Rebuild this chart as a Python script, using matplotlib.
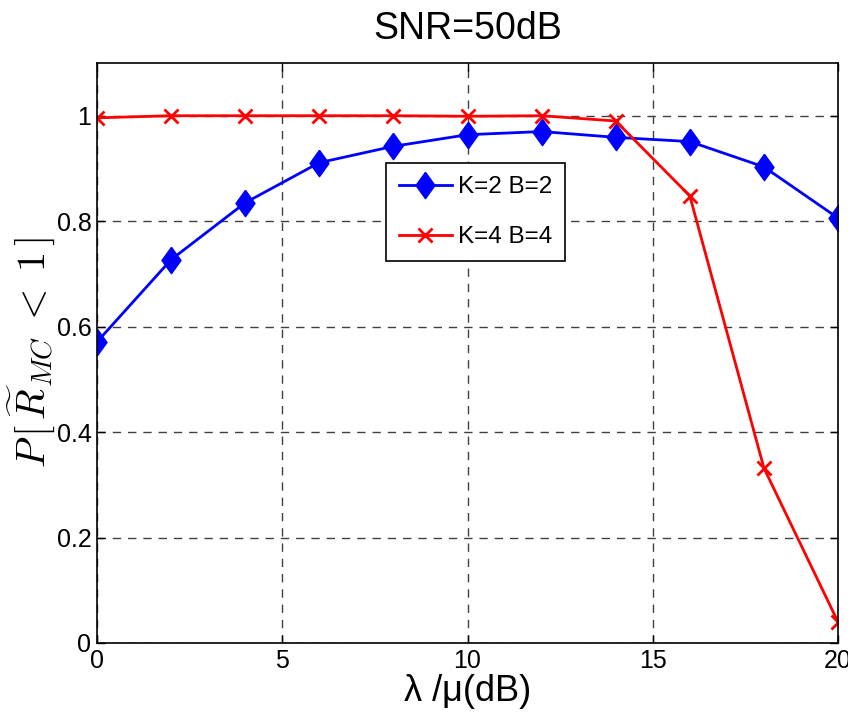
import matplotlib
matplotlib.use("Agg")
import matplotlib.pyplot as plt

plt.rcParams['font.family'] = ['Liberation Sans', 'DejaVu Sans']
plt.rcParams['mathtext.fontset'] = 'cm'

x_vals = [0, 2, 4, 6, 8, 10, 12, 14, 16, 18, 20]
k2b2 = [0.571, 0.727, 0.835, 0.911, 0.942, 0.964, 0.970, 0.959, 0.951, 0.903, 0.806]
k4b4 = [0.996, 1.0, 1.0, 1.0, 1.0, 0.999, 1.0, 0.990, 0.848, 0.332, 0.040]
labels = ["K=2 B=2", "K=4 B=4"]
xticks = [0, 5, 10, 15, 20]
yticks = [0, 0.2, 0.4, 0.6, 0.8, 1.0]
yticklabels = ["0", "0.2", "0.4", "0.6", "0.8", "1"]

diamond = [(0, 1), (0.72, 0), (0, -1), (-0.72, 0), (0, 1)]

fig = plt.figure(figsize=(8.48, 7.16), dpi=100)
ax = fig.add_axes([97/848, 73/716, 741/848, 580/716])

ax.plot(x_vals, k2b2, color='#0000ff', marker=diamond, markersize=19, linewidth=2, label=labels[0])
ax.plot(x_vals, k4b4, color='#ff0000', marker='x', markersize=10, markeredgewidth=2, linewidth=2, label=labels[1])

ax.set_xlim(0, 20)
ax.set_ylim(0, 1.1)
ax.set_xticks(xticks)
ax.set_yticks(yticks)
ax.set_yticklabels(yticklabels)
ax.tick_params(direction='in', labelsize=18, length=6, width=1, top=True, right=True, pad=4)
ax.grid(True, linestyle=(0, (6, 5)), color='#404040', linewidth=1)
for s in ax.spines.values():
    s.set_linewidth(1.2)

ax.set_title("SNR=50dB", fontsize=27, pad=17)
ax.set_xlabel("λ /μ(dB)", fontsize=26, labelpad=1)
ax.set_ylabel(r"$P\,[\,\widetilde{R}_{MC}\;<\;1\,]$", fontsize=29, labelpad=0)

leg = ax.legend(loc='upper left', bbox_to_anchor=(0.39, 0.828), fontsize=17.5, frameon=True,
                fancybox=False, edgecolor='black', framealpha=1, borderpad=0.55,
                labelspacing=1.15, handlelength=2.15, handletextpad=0.25, borderaxespad=0)
leg.get_frame().set_linewidth(1.2)

fig.savefig("out.png", dpi=100)
